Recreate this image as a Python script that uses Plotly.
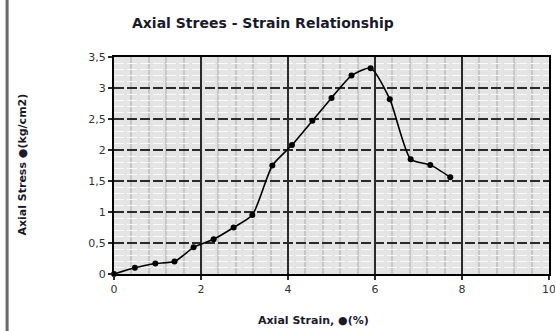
import plotly.graph_objects as go

# Axial strain (%) and axial stress (kg/cm2) readings
strain = [0.0, 0.48, 0.95, 1.39, 1.83, 2.29, 2.75, 3.18, 3.64, 4.09, 4.56,
          5.0, 5.46, 5.9, 6.34, 6.82, 7.27, 7.73]
stress = [0.0, 0.10, 0.17, 0.20, 0.43, 0.56, 0.75, 0.95, 1.75, 2.08, 2.47,
          2.84, 3.20, 3.32, 2.82, 1.85, 1.76, 1.56]

x_ticks = [0, 2, 4, 6, 8, 10]
y_ticks = [0, 0.5, 1, 1.5, 2, 2.5, 3, 3.5]

title_text = "Axial Strees - Strain Relationship"
x_title = "Axial Strain, \u25cf(%)"
y_title = "Axial Stress \u25cf(kg/cm2)"

W, H = 555, 331
L, R, T, B = 113.5, 6, 57, 57
pw, ph = W - L - R, H - T - B


def px(x):
    return (x - L) / pw


def py(y):
    return (H - B - y) / ph


fig = go.Figure()
fig.add_trace(go.Scatter(
    x=strain, y=stress, mode="lines+markers",
    line=dict(color="black", width=1.6, shape="spline", smoothing=0.6),
    marker=dict(color="black", size=6),
    showlegend=False,
    cliponaxis=False,
))

font = "DejaVu Sans, Arial, sans-serif"
ink = "#1a1a2a"

fig.update_layout(
    width=W, height=H,
    margin=dict(l=L, r=R, t=T, b=B, autoexpand=False),
    paper_bgcolor="white",
    plot_bgcolor="#e4e4e4",
    separators=",.",
    font=dict(family=font, size=10, color="#333"),
    xaxis=dict(
        range=[0, 10], tickvals=x_ticks, showgrid=True,
        gridcolor="#2a2a2a", gridwidth=2,
        minor=dict(dtick=0.4, tick0=0, showgrid=True, gridcolor="#c6c6c6", gridwidth=2),
        showline=True, linecolor="black", linewidth=2, mirror=True,
        ticks="outside", ticklen=4, tickcolor="#2a2a2a", tickwidth=2,
        zeroline=False, fixedrange=True, automargin=False,
        ticklabeloverflow="allow",
        tickfont=dict(family=font, size=11, color="#333"),
    ),
    yaxis=dict(
        range=[0, 3.5], tickvals=y_ticks, showgrid=True,
        gridcolor="#2a2a2a", gridwidth=2, griddash="10px,3px",
        minor=dict(dtick=0.1, tick0=0, showgrid=True, gridcolor="#fafafa", gridwidth=1),
        showline=True, linecolor="black", linewidth=2, mirror=True,
        ticks="outside", ticklen=4, tickcolor="#2a2a2a", tickwidth=2,
        zeroline=False, fixedrange=True, automargin=False,
        ticklabeloverflow="allow",
        tickfont=dict(family=font, size=11, color="#333"),
    ),
    annotations=[
        dict(text="<b>" + title_text + "</b>", x=px(263), y=py(23),
             xref="paper", yref="paper", showarrow=False,
             xanchor="center", yanchor="middle",
             font=dict(family=font, size=14, color=ink)),
        dict(text="<b>" + x_title + "</b>", x=px(313), y=py(320),
             xref="paper", yref="paper", showarrow=False,
             xanchor="center", yanchor="middle",
             font=dict(family=font, size=11, color=ink)),
        dict(text="<b>" + y_title + "</b>", x=px(21), y=py(165),
             xref="paper", yref="paper", showarrow=False, textangle=-90,
             xanchor="center", yanchor="middle",
             font=dict(family=font, size=11, color=ink)),
    ],
    shapes=[
        dict(type="line", xref="paper", yref="paper",
             x0=px(6.5), x1=px(6.5), y0=py(0), y1=py(H),
             line=dict(color="#6a6a6a", width=3)),
    ],
)

fig.write_html("out.html")
